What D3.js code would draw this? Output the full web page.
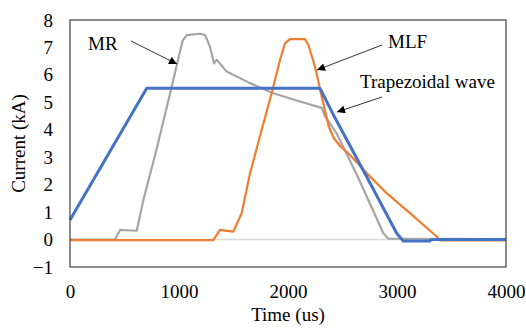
<!DOCTYPE html>
<html>
<head>
<meta charset="utf-8">
<script src="https://cdn.jsdelivr.net/npm/d3@7"></script>
<style>
  body { margin: 0; background: #fff; }
  text { font-family: "Liberation Serif", "Times New Roman", serif; fill: #000; }
</style>
</head>
<body>
<script>
// axis ticks
var xTicks = [0, 1000, 2000, 3000, 4000];
var yTicks = [-1, 0, 1, 2, 3, 4, 5, 6, 7, 8];

// MR (gray)
var mrTime = [0, 413, 459, 612, 673, 795, 917, 994, 1034, 1071, 1193, 1239, 1284, 1321, 1346, 1437, 1651, 1865, 2110, 2309, 2339, 2446, 2640, 2875, 2920, 3050, 4000];
var mrCurrent = [0, 0, 0.35, 0.32, 1.44, 3.3, 5.3, 6.6, 7.25, 7.45, 7.50, 7.45, 7.03, 6.42, 6.55, 6.12, 5.70, 5.33, 5.03, 4.80, 4.50, 3.87, 2.29, 0.23, 0.03, 0.03, 0.02];

// MLF (orange)
var mlfTime = [0, 1315, 1376, 1498, 1575, 1651, 1758, 1850, 1927, 1972, 2018, 2156, 2187, 2248, 2316, 2375, 2420, 2480, 2569, 2722, 2905, 3119, 3364, 3394, 4000];
var mlfCurrent = [-0.02, -0.02, 0.35, 0.29, 0.96, 2.4, 3.99, 5.33, 6.55, 7.15, 7.30, 7.30, 7.09, 6.30, 5.09, 4.1, 3.7, 3.4, 3.08, 2.42, 1.69, 0.96, 0.11, -0.03, -0.03];

// Trapezoidal wave (blue)
var trapTime = [0, 704, 2294, 2416, 2722, 2997, 3058, 3300, 3320, 4000];
var trapCurrent = [0.71, 5.51, 5.51, 4.55, 2.29, 0.23, -0.05, -0.05, 0.0, 0.0];

var W = 526, H = 328;
var svg = d3.select('body').append('svg')
    .attr('width', W)
    .attr('height', H);

var x = d3.scaleLinear().domain([0, 4000]).range([70, 506]);
var y = d3.scaleLinear().domain([-1, 8]).range([267, 20]);

// zero line
svg.append('line')
    .attr('x1', x(0)).attr('x2', x(4000))
    .attr('y1', y(0)).attr('y2', y(0))
    .attr('stroke', '#d9d9d9')
    .attr('stroke-width', 1.5);

// axes, labels only
var xAxis = svg.append('g')
    .attr('transform', 'translate(0,' + y(-1) + ')')
    .call(d3.axisBottom(x).tickValues(xTicks).tickSize(0).tickPadding(18).tickFormat(d3.format('d')));
var yAxis = svg.append('g')
    .attr('transform', 'translate(' + x(0) + ',0)')
    .call(d3.axisLeft(y).tickValues(yTicks).tickSize(0).tickPadding(17).tickFormat(d3.format('d')));
[xAxis, yAxis].forEach(function (a) {
    a.select('.domain').remove();
    a.selectAll('text').attr('font-size', 19).attr('font-family', null);
});

var line = d3.line()
    .x(function (d) { return x(d[0]); })
    .y(function (d) { return y(d[1]); });

function addSeries(ts, vs, color, width) {
    var pts = ts.map(function (t, i) { return [t, vs[i]]; });
    svg.append('path')
        .datum(pts)
        .attr('d', line)
        .attr('fill', 'none')
        .attr('stroke', color)
        .attr('stroke-width', width)
        .attr('stroke-linejoin', 'round');
}
addSeries(mrTime, mrCurrent, '#a5a5a5', 2.2);
addSeries(mlfTime, mlfCurrent, '#ed7d31', 2.2);
addSeries(trapTime, trapCurrent, '#4472c4', 3);

// plot frame
svg.append('rect')
    .attr('x', x(0)).attr('y', y(8))
    .attr('width', x(4000) - x(0))
    .attr('height', y(-1) - y(8))
    .attr('fill', 'none')
    .attr('stroke', '#404040')
    .attr('stroke-width', 1.2);

// axis titles
svg.append('text')
    .attr('x', (x(0) + x(4000)) / 2)
    .attr('y', 321)
    .attr('text-anchor', 'middle')
    .attr('font-size', 19)
    .text('Time (us)');
svg.append('text')
    .attr('transform', 'translate(25,' + (y(8) + y(-1)) / 2 + ') rotate(-90)')
    .attr('text-anchor', 'middle')
    .attr('font-size', 19)
    .text('Current (kA)');

// annotations
var defs = svg.append('defs');
defs.append('marker')
    .attr('id', 'arrow')
    .attr('viewBox', '0 -5 10 10')
    .attr('refX', 10)
    .attr('refY', 0)
    .attr('markerWidth', 10)
    .attr('markerHeight', 8)
    .attr('markerUnits', 'userSpaceOnUse')
    .attr('orient', 'auto')
    .append('path')
    .attr('d', 'M0,-5L10,0L0,5Z')
    .attr('fill', '#000');

var notes = [
    { label: 'MR', tx: 88, ty: 50, x1: 131, y1: 41, x2: 177, y2: 64 },
    { label: 'MLF', tx: 388, ty: 48, x1: 382, y1: 45, x2: 317, y2: 70 },
    { label: 'Trapezoidal wave', tx: 360, ty: 88, x1: 382, y1: 97, x2: 337, y2: 112 }
];
notes.forEach(function (n) {
    svg.append('line')
        .attr('x1', n.x1).attr('y1', n.y1)
        .attr('x2', n.x2).attr('y2', n.y2)
        .attr('stroke', '#000')
        .attr('stroke-width', 0.8)
        .attr('marker-end', 'url(#arrow)');
    svg.append('text')
        .attr('x', n.tx).attr('y', n.ty)
        .attr('font-size', 19)
        .text(n.label);
});
</script>
</body>
</html>
